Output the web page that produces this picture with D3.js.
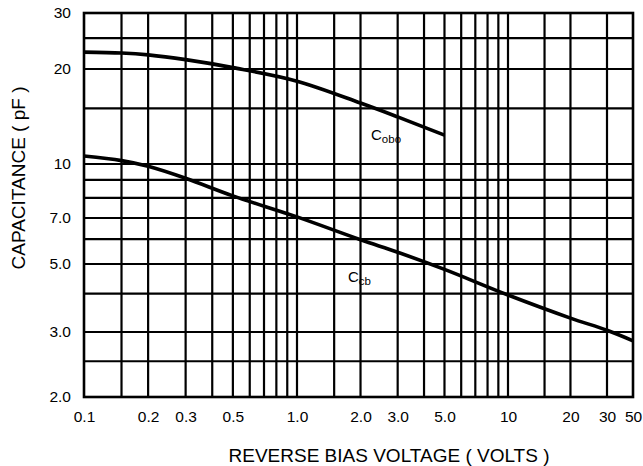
<!DOCTYPE html>
<html><head><meta charset="utf-8">
<script src="https://cdn.jsdelivr.net/npm/d3@7"></script>
<style>body{margin:0;background:#fff}svg{display:block}text{font-family:"Liberation Sans",Arial,sans-serif;fill:#000}</style>
</head><body><svg id="c" width="643" height="466"></svg>
<script>
// ---- data ----
const xTickValues = [0.1, 0.2, 0.3, 0.5, 1, 2, 3, 5, 10, 20, 30, 50];
const xTickLabels = ["0.1","0.2","0.3","0.5","1.0","2.0","3.0","5.0","10","20","30","50"];
const xGridValues = [0.15,0.2,0.3,0.4,0.5,0.6,0.7,0.8,0.9,1,1.5,2,3,4,5,6,7,8,9,10,15,20,30];
const yTickValues = [2, 3, 5, 7, 10, 20, 30];
const yTickLabels = ["2.0","3.0","5.0","7.0","10","20","30"];
const yGridValues = [2.5,3,4,5,6,7,8,9,10,15,20,25];
const coboVolts = [0.1, 0.15, 0.2, 0.3, 0.5, 1, 2, 3, 5];
const coboCap   = [22.6, 22.45, 22.15, 21.4, 20.2, 18.3, 15.6, 14.1, 12.35];
const cbVolts   = [0.1, 0.15, 0.2, 0.3, 0.5, 1, 2, 3, 5, 10, 20, 30, 50];
const cbCap     = [10.6, 10.25, 9.85, 9.1, 8.1, 7.05, 5.97, 5.45, 4.8, 3.96, 3.33, 3.04, 2.84];

// ---- layout ----
const L = 84, R = 633, T = 13, B = 397;
const svg = d3.select("#c");
// the printed graph paper is not uniformly logarithmic: piecewise log scales
const x = d3.scaleLog().domain([0.1, 1, 10, 30, 50]).range([L, 297, 508, 607, R]);
const y = d3.scaleLog().domain([2, 3, 5, 7, 10, 20, 30]).range([B, 332, 264, 218, 164, 69, T]);

const g = svg.append("g");
g.selectAll(".vg").data(xGridValues).enter().append("line")
  .attr("x1", d => x(d)).attr("x2", d => x(d)).attr("y1", T).attr("y2", B)
  .attr("stroke", "#000").attr("stroke-width", 2.2);
g.selectAll(".hg").data(yGridValues).enter().append("line")
  .attr("y1", d => y(d)).attr("y2", d => y(d)).attr("x1", L).attr("x2", R)
  .attr("stroke", "#000").attr("stroke-width", 2.2);
g.append("rect").attr("x", L).attr("y", T).attr("width", R - L).attr("height", B - T)
  .attr("fill", "none").attr("stroke", "#000").attr("stroke-width", 2.6);

// axes (labels only)
const xAxis = d3.axisBottom(x).tickValues(xTickValues).tickSize(0).tickPadding(14)
  .tickFormat((d, i) => xTickLabels[i]);
const gx = svg.append("g").attr("transform", `translate(0,${B})`).call(xAxis);
gx.select(".domain").remove();
gx.selectAll("text").attr("font-size", 15.5).attr("font-family", "Liberation Sans, Arial, sans-serif").attr("fill", "#000");

const yAxis = d3.axisLeft(y).tickValues(yTickValues).tickSize(0).tickPadding(13)
  .tickFormat((d, i) => yTickLabels[i]);
const gy = svg.append("g").attr("transform", `translate(${L},0)`).call(yAxis);
gy.select(".domain").remove();
gy.selectAll("text").attr("font-size", 15.5).attr("font-family", "Liberation Sans, Arial, sans-serif").attr("fill", "#000");

// curves
const line = d3.line().x(d => x(d[0])).y(d => y(d[1])).curve(d3.curveCatmullRom.alpha(0.5));
svg.append("path").datum(coboVolts.map((v, i) => [v, coboCap[i]]))
  .attr("d", line).attr("fill", "none").attr("stroke", "#000").attr("stroke-width", 3.6);
svg.append("path").datum(cbVolts.map((v, i) => [v, cbCap[i]]))
  .attr("d", line).attr("fill", "none").attr("stroke", "#000").attr("stroke-width", 3.6);

// series labels
function lab(px, py, main, sub) {
  const t = svg.append("text").attr("x", px).attr("y", py).attr("font-size", 15).attr("fill", "#000");
  t.append("tspan").attr("fill", "#000").text(main);
  t.append("tspan").attr("fill", "#000").attr("font-size", 11.5).attr("dy", 3).text(sub);
}
lab(371, 140, "C", "obo");
lab(348, 282, "C", "cb");

// titles
svg.append("text").attr("x", 389).attr("y", 462).attr("text-anchor", "middle")
  .attr("font-size", 19).text("REVERSE BIAS VOLTAGE ( VOLTS )");
svg.append("text").attr("transform", "translate(25,178) rotate(-90)").attr("text-anchor", "middle")
  .attr("font-size", 19).text("CAPACITANCE ( pF )");
</script></body></html>
